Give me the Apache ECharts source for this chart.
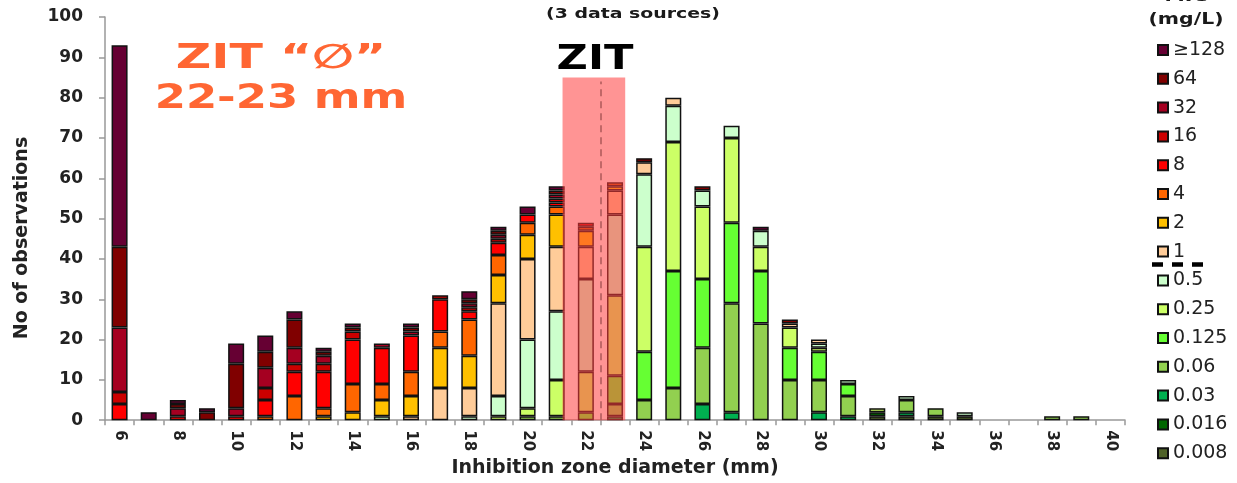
<!DOCTYPE html>
<html>
<head>
<meta charset="utf-8">
<script src="https://cdn.jsdelivr.net/npm/echarts@6/dist/echarts.min.js"></script>
<style>
  html, body { margin: 0; padding: 0; background: #fff; }
  #chart { width: 1237px; height: 483px; }
</style>
</head>
<body>
<div id="chart"></div>
<script>
// Inhibition zone diameters (mm), one bar per millimetre
const categories = ['6','7','8','9','10','11','12','13','14','15','16','17','18','19','20',
  '21','22','23','24','25','26','27','28','29','30','31','32','33','34','35','36','37','38','39','40'];

// MIC classes (mg/L), stacked from the lowest upwards
const micLevels = ['0.008','0.016','0.03','0.06','0.125','0.25','0.5','1','2','4','8','16','32','64','≥128'];

// Number of observations per diameter for each MIC class
const mic0008 = [0,0,0,0,0, 0,0,0,0,0, 0,0,0,0,0, 0,0,0,0,0, 0,0,0,0,0, 0,1,1,1,1, 0,0,0,0,0];
const mic0016 = [0,0,0,0,0, 0,0,0,0,0, 0,0,0,0,0, 0,0,0,0,0, 0,0,0,0,0, 0,1,0,0,0, 0,0,0,0,0];
const mic003  = [0,0,0,0,0, 0,0,0,0,0, 0,0,0,0,0, 0,0,1,0,0, 4,2,0,0,2, 1,0,1,0,0, 0,0,0,0,0];
const mic006  = [0,0,0,0,0, 0,0,0,0,0, 0,0,0,0,1, 1,0,3,5,8, 14,27,24,10,8, 5,0,3,2,0, 0,0,1,1,0];
const mic0125 = [0,0,0,0,0, 0,0,0,0,0, 0,0,0,0,0, 0,2,7,12,29, 17,20,13,8,7, 3,0,0,0,0, 0,0,0,0,0];
const mic025  = [0,0,0,0,0, 0,0,0,0,0, 0,0,0,1,2, 9,10,20,26,32, 18,21,6,5,1, 0,1,0,0,0, 0,0,0,0,0];
const mic05   = [0,0,0,0,0, 0,0,0,0,1, 0,0,1,5,17, 17,23,20,18,9, 4,3,4,0,1, 1,0,1,0,1, 0,0,0,0,0];
const mic1    = [0,0,0,0,0, 0,0,0,0,0, 1,8,7,23,20, 16,8,6,3,2, 0,0,0,1,1, 0,0,0,0,0, 0,0,0,0,0];
const mic2    = [0,0,0,0,0, 0,0,1,2,4, 5,10,8,7,6, 8,4,1,0,0, 0,0,0,0,0, 0,0,0,0,0, 0,0,0,0,0];
const mic4    = [0,0,0,0,0, 1,6,2,7,4, 6,4,9,5,3, 2,1,1,0,0, 0,0,0,0,0, 0,0,0,0,0, 0,0,0,0,0];
const mic8    = [4,0,1,0,1, 4,6,9,11,9, 9,8,2,3,2, 1,1,0,0,0, 0,0,0,0,0, 0,0,0,0,0, 0,0,0,0,0];
const mic16   = [3,0,0,0,0, 3,2,2,2,0, 0,1,1,1,0, 1,0,0,0,0, 0,0,0,0,0, 0,0,0,0,0, 0,0,0,0,0];
const mic32   = [16,0,2,0,2, 5,4,2,0,1, 1,0,1,1,0, 1,0,0,0,0, 0,0,0,0,0, 0,0,0,0,0, 0,0,0,0,0];
const mic64   = [20,0,1,2,11, 4,7,1,1,0, 1,0,1,1,0, 1,0,0,1,0, 1,0,0,1,0, 0,0,0,0,0, 0,0,0,0,0];
const mic128  = [50,2,1,1,5, 4,2,1,1,0, 1,0,2,1,2, 1,0,0,0,0, 0,0,1,0,0, 0,0,0,0,0, 0,0,0,0,0];

// Y axis ticks
const yTicks = { min: 0, max: 100, step: 10 };

// ZIT band (mm) and its centre line
const zitBand = { from: 21.2, to: 23.35, top: 85 };
const zitLine = { at: 22.5, top: 84 };

const micSeriesData = [mic0008, mic0016, mic003, mic006, mic0125, mic025, mic05,
  mic1, mic2, mic4, mic8, mic16, mic32, mic64, mic128];

const micColors = ['#4f6228','#006600','#00b050','#92d050','#66ff33','#ccff66','#ccffcc',
  '#ffcc99','#ffc000','#ff6600','#ff0000','#cc0000','#a50021','#800000','#660033'];

const FONT = '"DejaVu Sans", sans-serif';

const barSeries = micLevels.map((name, i) => ({
  name: name,
  type: 'bar',
  stack: 'mic',
  barWidth: 16,
  data: micSeriesData[i].map(v => (v === 0 ? '-' : v)),
  itemStyle: { color: micColors[i], borderColor: '#111', borderWidth: 1.5 },
  emphasis: { disabled: true },
  z: 2
}));

// Translucent ZIT band drawn above the bars on a hidden numeric x axis
const zitSeries = {
  name: 'ZIT',
  type: 'line',
  xAxisIndex: 1,
  yAxisIndex: 0,
  data: [],
  z: 10,
  silent: true,
  markArea: {
    z: 10,
    silent: true,
    itemStyle: { color: 'rgba(255, 60, 60, 0.55)' },
    data: [[{ xAxis: zitBand.from, yAxis: 0 }, { xAxis: zitBand.to, yAxis: zitBand.top }]]
  },
  markLine: {
    z: 11,
    silent: true,
    symbol: ['none', 'none'],
    label: { show: false },
    lineStyle: { color: '#b25c5c', width: 1.6, type: [7, 5] },
    data: [[{ xAxis: zitLine.at, yAxis: 0 }, { xAxis: zitLine.at, yAxis: zitLine.top }]]
  }
};

function label(text, x, y, size, sx, fill, extra) {
  return Object.assign({
    type: 'text', x: x, y: y, scaleX: sx, scaleY: 1, z: 20,
    style: {
      text: text, fill: fill, fontSize: size, fontWeight: 'bold', fontFamily: FONT,
      textAlign: 'center', align: 'center',
      textVerticalAlign: 'middle', verticalAlign: 'middle'
    }
  }, extra || {});
}

const chart = echarts.init(document.getElementById('chart'), null, { renderer: 'canvas' });

chart.setOption({
  animation: false,
  backgroundColor: '#ffffff',
  grid: { left: 105, top: 17, width: 1020, height: 405, containLabel: false },
  legend: {
    orient: 'vertical',
    left: 1152,
    top: 35.5,
    itemWidth: 10,
    itemHeight: 10,
    itemGap: 9.8,
    icon: 'rect',
    selectedMode: false,
    data: micLevels.slice().reverse(),
    textStyle: { fontSize: 19, lineHeight: 19, color: '#222', fontFamily: FONT, padding: [0, 0, 0, 0] }
  },
  xAxis: [{
    type: 'category',
    data: categories,
    axisLine: { lineStyle: { color: '#999', width: 1.5 } },
    axisTick: { show: true, interval: 0, length: 5, lineStyle: { color: '#999', width: 1.5 } },
    axisLabel: {
      interval: 1, rotate: -90, margin: 10,
      fontSize: 15, fontWeight: 'bold', color: '#222', fontFamily: FONT
    },
    name: 'Inhibition zone diameter (mm)',
    nameLocation: 'middle',
    nameGap: 36,
    nameTextStyle: { fontSize: 19, fontWeight: 'bold', color: '#222', fontFamily: FONT }
  }, {
    type: 'value',
    show: false,
    min: 5.5,
    max: 40.5
  }],
  yAxis: {
    type: 'value',
    min: yTicks.min,
    max: yTicks.max,
    interval: yTicks.step,
    splitLine: { show: false },
    axisLine: { show: true, lineStyle: { color: '#999', width: 1.5 } },
    axisTick: { show: true, length: 6, lineStyle: { color: '#999', width: 1.5 } },
    axisLabel: { margin: 22, fontSize: 17, fontWeight: 'bold', color: '#222', fontFamily: FONT }
  },
  graphic: [
    label('(3 data sources)', 633, 14, 14, 1.35, '#1a1a1a'),
    label('MIC', 1186, 5, 15, 1.36, '#1a1a1a', { style: {
      text: 'MIC', fill: '#1a1a1a', fontSize: 15, fontWeight: 'bold', fontFamily: FONT,
      textAlign: 'center', align: 'center', textVerticalAlign: 'bottom', verticalAlign: 'bottom' } }),
    label('(mg/L)', 1186, 20, 15, 1.36, '#1a1a1a'),
    label('ZIT', 595, 60.5, 34, 1.27, '#000'),
    label('ZIT “∅”', 281, 59, 34, 1.44, '#ff6633'),
    label('22-23 mm', 281, 99, 34, 1.32, '#ff6633'),
    label('No of observations', 22, 238, 19, 1, '#222', { rotation: Math.PI / 2 }),
    {
      type: 'line', z: 20,
      shape: { x1: 1152, y1: 264.5, x2: 1205, y2: 264.5 },
      style: { stroke: '#000', lineWidth: 4.5, lineDash: [11, 9] }
    }
  ],
  series: barSeries.concat([zitSeries])
});
</script>
</body>
</html>
